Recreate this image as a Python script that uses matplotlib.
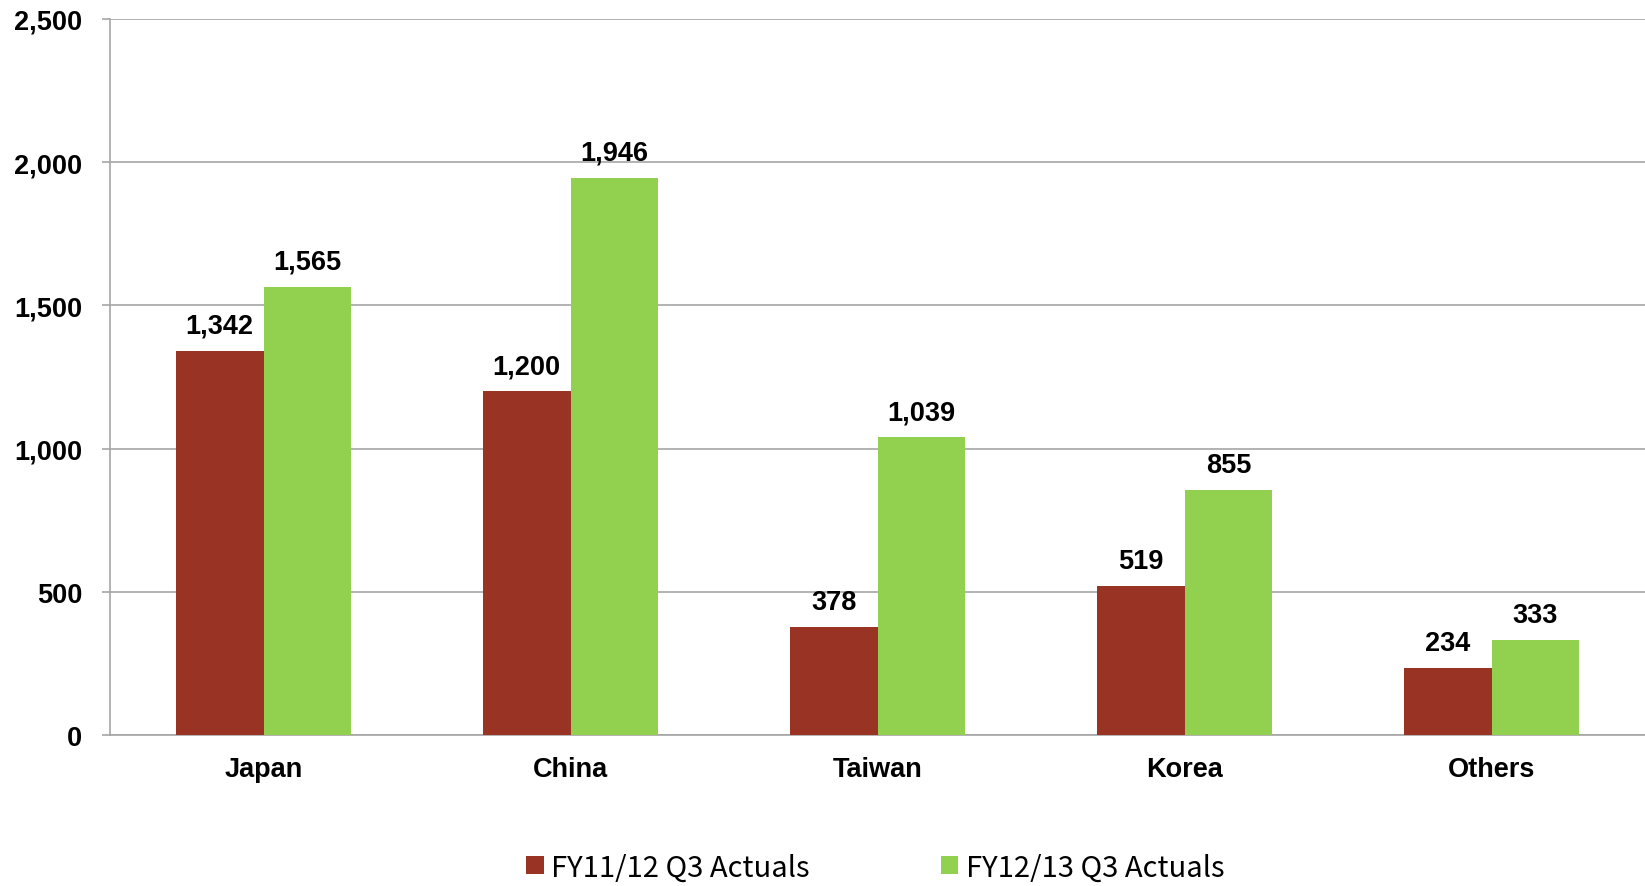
import matplotlib.pyplot as plt
import numpy as np

regions = ['Japan', 'China', 'Taiwan', 'Korea', 'Others']
fy11_12 = [1342, 1200, 378, 519, 234]
fy12_13 = [1565, 1946, 1039, 855, 333]
series_names = ['FY11/12 Q3 Actuals', 'FY12/13 Q3 Actuals']
y_ticks = [0, 500, 1000, 1500, 2000, 2500]

red = '#993424'
green = '#92D050'
grid_gray = '#A6A6A6'

plt.rcParams['font.family'] = ['Liberation Sans', 'DejaVu Sans']

fig = plt.figure(figsize=(16.45, 8.87), dpi=100)
ax = fig.add_axes([0.0669, 0.1702, 0.9331, 0.8073])

x = np.arange(len(regions))
bar_w = 1 / 3.5
bars1 = ax.bar(x - bar_w / 2, fy11_12, bar_w, color=red, label=series_names[0], zorder=3)
bars2 = ax.bar(x + bar_w / 2, fy12_13, bar_w, color=green, label=series_names[1], zorder=3)

for bars in (bars1, bars2):
    for b in bars:
        ax.annotate(f'{int(b.get_height()):,}',
                    (b.get_x() + b.get_width() / 2, b.get_height()),
                    xytext=(0, 18), textcoords='offset points',
                    ha='center', va='center', fontsize=19.5, fontweight='bold')

ax.set_xlim(-0.5, len(regions) - 0.5)
ax.set_ylim(0, 2500)
ax.set_yticks(y_ticks)
ax.set_yticklabels([f'{v:,}' for v in y_ticks], fontsize=19.5, fontweight='bold')
ax.set_xticks(x)
ax.set_xticklabels(regions, fontsize=19.5, fontweight='bold')
ax.tick_params(axis='x', length=0, pad=15)
ax.tick_params(axis='y', length=6, width=1.2, color=grid_gray, pad=14)

ax.yaxis.grid(True, color=grid_gray, linewidth=1.2, zorder=0)
for side in ('top', 'right'):
    ax.spines[side].set_visible(False)
for side in ('left', 'bottom'):
    ax.spines[side].set_color(grid_gray)
    ax.spines[side].set_linewidth(1.2)

leg = fig.legend(handles=[bars1, bars2], labels=series_names,
                 loc='center', bbox_to_anchor=(0.532, 0.021), ncol=2,
                 frameon=False, handlelength=0.6, handleheight=0.6,
                 handletextpad=0.25, columnspacing=4.5, borderpad=0,
                 prop={'family': ['Noto Sans CJK JP', 'DejaVu Sans'], 'size': 21})

fig.savefig('out.png', dpi=100)
